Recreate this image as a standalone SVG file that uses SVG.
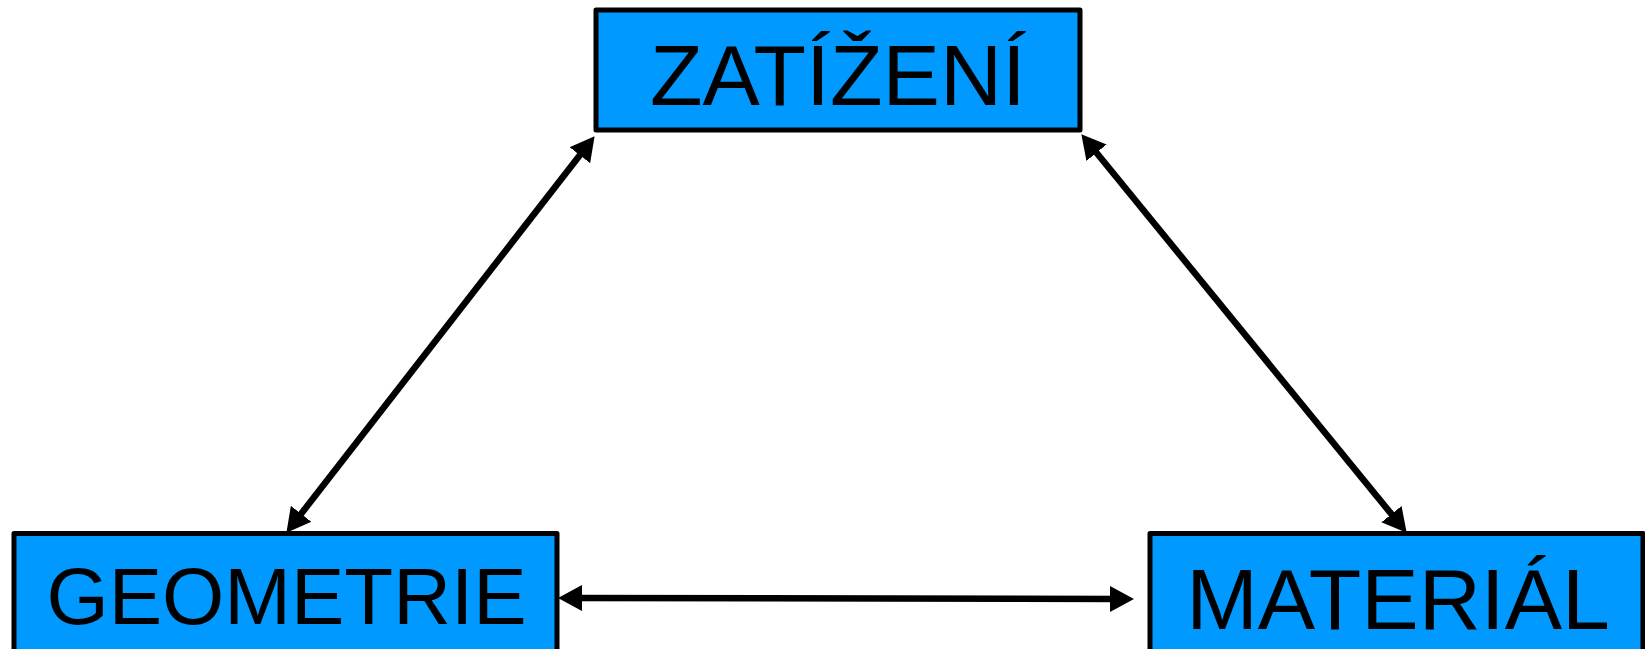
<svg xmlns="http://www.w3.org/2000/svg" width="1645" height="649" viewBox="0 0 1645 649">
  <style>
    .box { fill: #0099ff; stroke: #000; stroke-width: 5; stroke-linejoin: round; }
    .label { font-family: "Liberation Sans", Arial, sans-serif; font-size: 86px; fill: #000; text-anchor: middle; }
    .link { stroke: #000; stroke-width: 6.5; fill: none; marker-start: url(#head); marker-end: url(#head); }
  </style>
  <defs>
    <marker id="head" markerUnits="userSpaceOnUse" markerWidth="25" markerHeight="28" viewBox="0 0 25 28" refX="10" refY="14" orient="auto-start-reverse">
      <path d="M0,1 L24,14 L0,27 z" fill="#000"/>
    </marker>
  </defs>

  <rect width="1645" height="649" fill="#fff"/>

  <g id="connectors">
    <line class="link" x1="295" y1="521.7" x2="586" y2="147.3"/>
    <line class="link" x1="1090.2" y1="145" x2="1397.8" y2="521.9"/>
    <line class="link" x1="572" y1="598" x2="1120" y2="599"/>
  </g>

  <g id="zatizeni">
    <rect class="box" x="596" y="10" width="484" height="120"/>
    <text class="label" x="838" y="105">ZATÍŽENÍ</text>
  </g>

  <g id="geometrie">
    <rect class="box" x="14" y="533.5" width="543" height="130"/>
    <text class="label" x="286.5" y="624" style="font-size:80px">GEOMETRIE</text>
  </g>

  <g id="material">
    <rect class="box" x="1150" y="533.5" width="493" height="130"/>
    <text class="label" x="1398" y="629">MATERIÁL</text>
  </g>
</svg>
